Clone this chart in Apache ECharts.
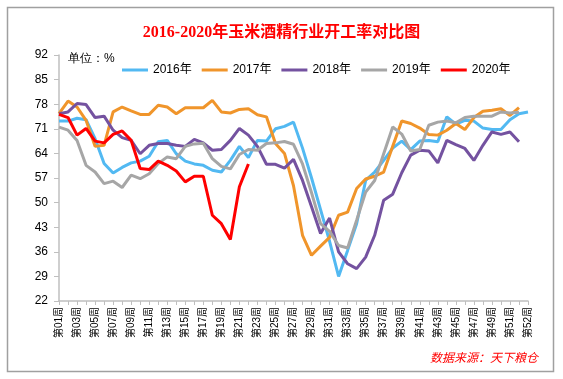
<!DOCTYPE html>
<html>
<head>
<meta charset="utf-8">
<script src="https://cdn.jsdelivr.net/npm/echarts@6/dist/echarts.min.js"></script>
<style>
html,body{margin:0;padding:0;background:#fff;}
#chart{width:563px;height:379px;}
</style>
</head>
<body>
<div id="chart"></div>
<script>
const weeks = ['第01周','第02周','第03周','第04周','第05周','第06周','第07周','第08周','第09周','第10周',
  '第11周','第12周','第13周','第14周','第15周','第16周','第17周','第18周','第19周','第20周',
  '第21周','第22周','第23周','第24周','第25周','第26周','第27周','第28周','第29周','第30周',
  '第31周','第32周','第33周','第34周','第35周','第36周','第37周','第38周','第39周','第40周',
  '第41周','第42周','第43周','第44周','第45周','第46周','第47周','第48周','第49周','第50周',
  '第51周','第52周','第52周'];
const seriesNames = ['2016年','2017年','2018年','2019年','2020年'];
const s2016 = [73.2,73.2,74.0,73.6,68.2,61.1,58.4,60.0,61.3,61.8,63.2,67.3,67.7,63.9,61.8,61.0,60.6,59.2,58.7,62.0,
  66.0,62.8,67.7,67.5,71.0,71.7,72.9,65.5,57.0,48.0,39.0,29.0,36.4,44.0,56.3,58.7,62.0,65.5,67.5,65.1,
  67.5,67.7,67.3,74.4,72.3,73.4,73.2,71.2,70.8,70.8,73.6,75.3,75.8];
const s2017 = [75.3,78.9,77.2,73.4,66.0,66.3,75.8,77.2,76.1,75.1,75.1,77.7,77.2,75.3,77.0,77.0,77.0,79.1,75.8,75.5,
  76.5,76.7,75.0,74.4,66.8,64.0,54.8,40.7,35.0,37.6,40.1,46.4,47.3,54.0,56.7,57.5,58.7,66.0,73.2,72.5,
  71.2,69.4,69.2,70.6,72.5,70.8,74.2,76.0,76.3,76.7,74.8,77.0];
const s2018 = [75.3,75.8,78.2,77.9,74.2,74.6,70.6,68.5,67.7,63.9,66.3,66.8,66.8,66.3,66.0,68.0,67.0,64.9,65.1,67.7,
  71.1,69.2,66.0,60.9,60.9,59.8,62.3,56.3,48.8,41.2,45.6,36.0,32.6,31.2,34.5,40.7,50.7,52.4,58.5,63.5,
  64.9,64.7,61.3,67.7,66.5,65.4,62.0,66.3,70.1,69.4,70.1,67.3];
const s2019 = [71.5,70.6,67.7,60.6,58.7,55.4,56.1,54.3,57.8,56.8,58.2,61.1,63.0,62.5,66.0,66.7,66.9,62.5,60.3,59.6,
  63.7,65.1,64.9,66.8,67.0,67.4,66.6,61.0,52.8,44.0,41.8,37.8,37.1,45.0,53.0,56.3,63.9,71.5,69.5,64.7,
  65.1,72.0,72.9,73.2,72.7,74.2,74.6,74.6,74.6,75.8,75.5,75.7];
const s2020 = [75.1,74.2,69.2,71.1,67.5,67.0,69.4,70.4,67.7,59.7,59.4,61.8,60.6,59.0,55.9,57.5,57.5,46.4,44.0,39.5,
  54.5,61.0];
const yTicks = {min: 22, max: 92, step: 7};

const colors = ['#52B9F2','#F0952B','#7452A0','#A6A6A6','#FF0000'];
const allData = [s2016, s2017, s2018, s2019, s2020];

const chart = echarts.init(document.getElementById('chart'), null, {renderer: 'canvas'});
const sansFont = "'Liberation Sans','Noto Sans CJK SC',sans-serif";
chart.setOption({
  animation: false,
  backgroundColor: '#fff',
  title: {
    text: '2016-2020年玉米酒精行业开工率对比图',
    left: 'center',
    top: 20,
    textStyle: {color: '#FF0000', fontSize: 16, fontWeight: 'bold',
      fontFamily: "'Liberation Serif','Noto Sans CJK SC',serif"}
  },
  legend: {
    left: 117, top: 59,
    icon: 'rect', itemWidth: 26, itemHeight: 3, itemGap: 10,
    textStyle: {fontSize: 12, color: '#000', fontFamily: sansFont},
    data: seriesNames
  },
  grid: {left: 59, right: 35, top: 55, bottom: 78},
  xAxis: {
    type: 'category',
    data: weeks,
    boundaryGap: false,
    axisLine: {lineStyle: {color: '#BFBFBF', width: 1.5}},
    axisTick: {show: true, interval: 0, length: 4, lineStyle: {color: '#BFBFBF'}},
    axisLabel: {interval: 1, rotate: 90, fontSize: 10, color: '#000', margin: 6, fontFamily: sansFont}
  },
  yAxis: {
    type: 'value',
    min: yTicks.min, max: yTicks.max, interval: yTicks.step,
    axisLine: {show: true, lineStyle: {color: '#BFBFBF', width: 1.5}},
    axisTick: {show: true, length: 5, lineStyle: {color: '#BFBFBF'}},
    splitLine: {show: false},
    axisLabel: {fontSize: 12, color: '#000', margin: 11, fontFamily: sansFont}
  },
  graphic: [
    {type: 'rect', shape: {x: 7.5, y: 7.5, width: 546, height: 364},
     style: {fill: 'none', stroke: '#A0A0A0', lineWidth: 1.5}, silent: true},
    {type: 'text', left: 68, top: 53,
     style: {text: '单位：%', fontSize: 12, fill: '#000', font: "12px 'Liberation Sans','Noto Sans CJK SC',sans-serif"}},
    {type: 'text', right: 25, top: 351,
     style: {text: '数据来源：天下粮仓', fill: '#FF0000',
       font: "italic 12px 'Noto Sans CJK SC',sans-serif"}}
  ],
  series: seriesNames.map((n, k) => ({
    name: n, type: 'line', data: allData[k], symbol: 'none',
    lineStyle: {color: colors[k], width: 3},
    itemStyle: {color: colors[k]},
    z: k === 4 ? 5 : 2
  }))
});
</script>
</body>
</html>
